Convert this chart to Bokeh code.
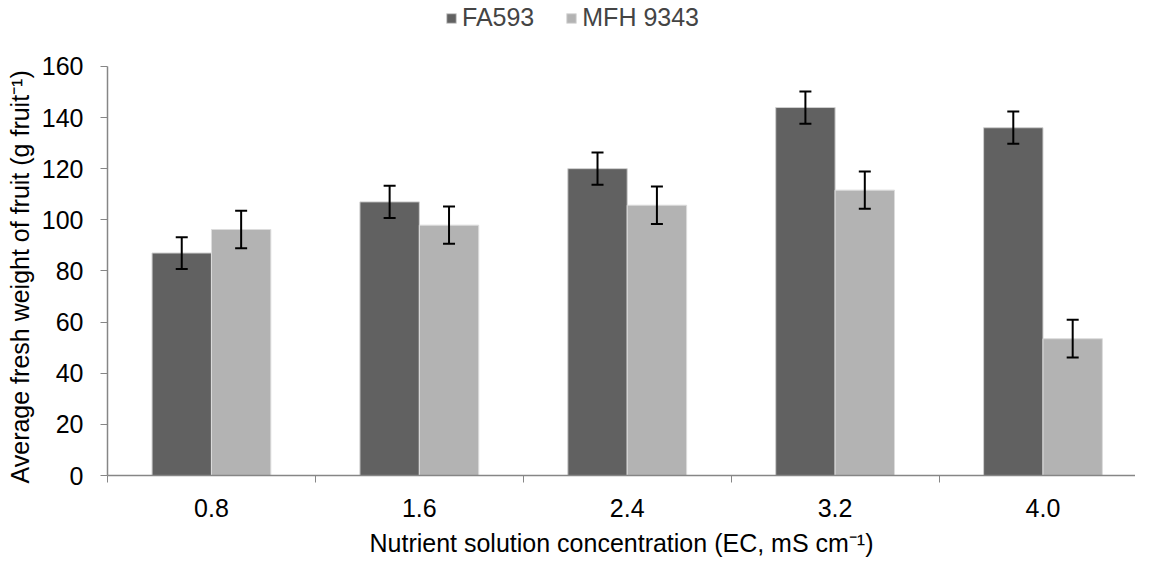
from bokeh.plotting import figure
from bokeh.models import (ColumnDataSource, Range1d, FixedTicker, Legend, LegendItem,
                          Whisker, TeeHead, Title)
from bokeh.transform import dodge
from bokeh.embed import file_html
from bokeh.resources import INLINE
import numpy as np

# ---- data ----
categories = ["0.8", "1.6", "2.4", "3.2", "4.0"]
fa593 = [87.0, 107.0, 120.0, 143.9, 136.0]
fa593_err = [6.2, 6.3, 6.3, 6.3, 6.3]
mfh9343 = [96.2, 97.9, 105.7, 111.6, 53.5]
mfh9343_err = [7.3, 7.3, 7.3, 7.3, 7.4]
series_names = ["FA593", "MFH 9343"]
y_ticks = [0, 20, 40, 60, 80, 100, 120, 140, 160]
y_max = 160
x_title = "Nutrient solution concentration (EC, mS cm\u207b\u00b9)"
y_title = "Average fresh weight of fruit (g fruit\u207b\u00b9)"

FONT = "Liberation Sans"
FS = "25px"
DARK = "#616161"
LIGHT = "#b3b3b3"
AXIS = "#868686"

# layout (pixels)
W, H = 1135, 559
LEFT, BOTTOM = 105, 83
TOP_GAP = 66            # space between canvas top and the 160 line
frame_h = H - BOTTOM

n = len(categories)
centers = (np.arange(n) + 0.5).tolist()
bounds = np.arange(n + 1).astype(float).tolist()
bar_w = 1.0 / 3.5

src = ColumnDataSource(dict(
    x=centers,
    fa=fa593, fa_lo=(np.array(fa593) - np.array(fa593_err)).tolist(),
    fa_hi=(np.array(fa593) + np.array(fa593_err)).tolist(),
    mf=mfh9343, mf_lo=(np.array(mfh9343) - np.array(mfh9343_err)).tolist(),
    mf_hi=(np.array(mfh9343) + np.array(mfh9343_err)).tolist(),
))

# frame reaches the canvas top so the legend can sit above the 160 line;
# the axis itself is bounded to 0..160
y_end = y_max * frame_h / (frame_h - TOP_GAP)
p = figure(width=W, height=H, output_backend="svg", toolbar_location=None,
           x_range=Range1d(0, 4.945), y_range=Range1d(0, y_end),
           min_border_left=LEFT, min_border_right=0, min_border_top=0,
           min_border_bottom=BOTTOM)
p.outline_line_color = None
p.grid.visible = False

r_fa = p.vbar(x=dodge("x", -bar_w / 2, range=p.x_range), top="fa", width=bar_w,
              source=src, fill_color=DARK, line_color="#cfcfcf", line_width=1)
r_mf = p.vbar(x=dodge("x", bar_w / 2, range=p.x_range), top="mf", width=bar_w,
              source=src, fill_color=LIGHT, line_color="#dcdcdc", line_width=1)

for off, lo, hi in [(-bar_w / 2, "fa_lo", "fa_hi"), (bar_w / 2, "mf_lo", "mf_hi")]:
    w = Whisker(base=dodge("x", off, range=p.x_range), lower=lo, upper=hi, source=src,
                line_color="black", line_width=2, level="overlay",
                upper_head=TeeHead(size=12, line_color="black", line_width=2),
                lower_head=TeeHead(size=12, line_color="black", line_width=2))
    p.add_layout(w)

# x axis: labels at category centres, ticks at category boundaries
xa = p.xaxis[0]
xa.ticker = FixedTicker(ticks=centers, minor_ticks=bounds)
xa.major_label_overrides = {c: lab for c, lab in zip(centers, categories)}
xa.major_tick_out = 0
xa.major_tick_in = 0
xa.minor_tick_out = 7
xa.minor_tick_in = 0
xa.minor_tick_line_color = AXIS
xa.axis_line_color = AXIS
xa.axis_line_width = 1.5
xa.major_label_standoff = 16
xa.major_label_text_font = FONT
xa.major_label_text_font_size = FS
xa.major_label_text_color = "black"
xa.axis_label = x_title
xa.axis_label_text_font = FONT
xa.axis_label_text_font_size = FS
xa.axis_label_text_font_style = "normal"
xa.axis_label_text_color = "black"
xa.axis_label_standoff = 9

ya = p.yaxis[0]
ya.bounds = (0, y_max)
ya.ticker = FixedTicker(ticks=y_ticks, minor_ticks=[])
ya.major_tick_out = 7
ya.major_tick_in = 0
ya.major_tick_line_color = AXIS
ya.axis_line_color = AXIS
ya.axis_line_width = 1.5
ya.major_label_standoff = 17
ya.major_label_text_font = FONT
ya.major_label_text_font_size = FS
ya.major_label_text_color = "black"

# y title: starts just below the 0 line and runs upward (as in the reference)
yt = Title(text=y_title, align="left", vertical_align="middle", offset=-8,
           standoff=8, text_font=FONT, text_font_size=FS,
           text_font_style="normal", text_color="black")
p.add_layout(yt, "left")

LEG_H = 28
legend = Legend(items=[LegendItem(label=series_names[0], renderers=[r_fa]),
                       LegendItem(label=series_names[1], renderers=[r_mf])],
                orientation="horizontal", location=(338, frame_h - LEG_H - 5),
                glyph_width=12, glyph_height=12, label_standoff=5, spacing=31,
                padding=0, margin=0, label_height=LEG_H,
                label_text_font=FONT, label_text_font_size=FS,
                border_line_color=None, background_fill_alpha=0)
p.add_layout(legend, "center")

open("out.html", "w").write(file_html(p, INLINE))
